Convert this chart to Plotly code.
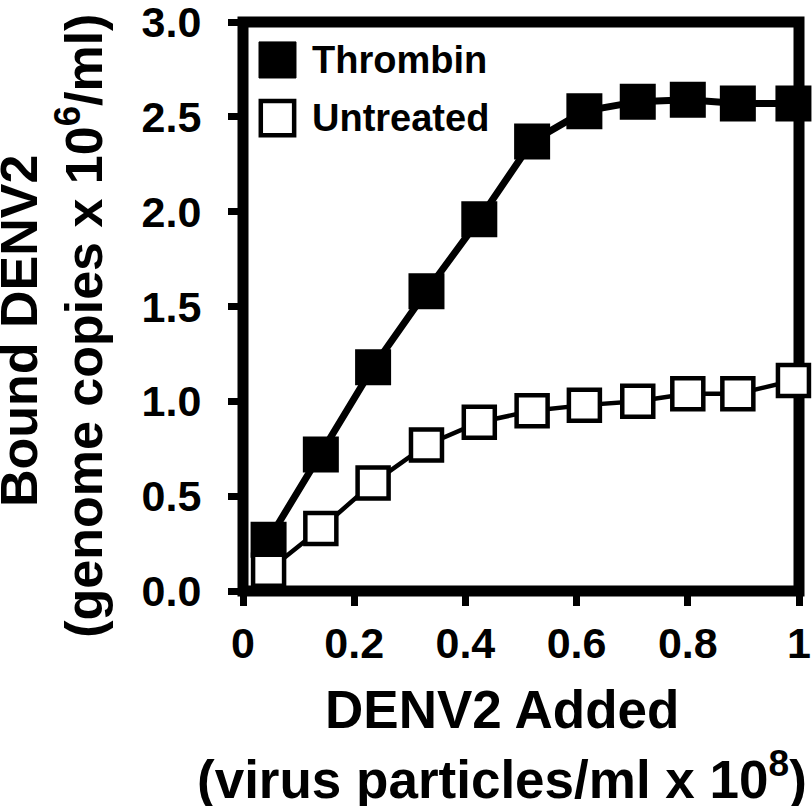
import plotly.graph_objects as go

FONT = "Liberation Sans"

# values
x_added = [0.046, 0.140, 0.234, 0.330, 0.425, 0.520, 0.614, 0.710, 0.800, 0.890, 0.990]
thrombin = [0.27, 0.72, 1.18, 1.58, 1.96, 2.37, 2.53, 2.58, 2.59, 2.57, 2.57]
untreated = [0.11, 0.33, 0.57, 0.77, 0.89, 0.95, 0.98, 1.00, 1.04, 1.04, 1.11]

x_ticks = [0, 0.2, 0.4, 0.6, 0.8, 1]
x_ticktext = ["0", "0.2", "0.4", "0.6", "0.8", "1"]
y_ticks = [0, 0.5, 1.0, 1.5, 2.0, 2.5, 3.0]
y_ticktext = ["0.0", "0.5", "1.0", "1.5", "2.0", "2.5", "3.0"]


def bold(size):
    return dict(family=FONT, size=size, color="black", weight="bold")


fig = go.Figure()
fig.add_trace(go.Scatter(x=x_added, y=thrombin, mode="lines+markers", name="Thrombin",
                         line=dict(color="black", width=7),
                         marker=dict(symbol="square", size=34, color="black",
                                     line=dict(color="black", width=2)),
                         cliponaxis=False))
fig.add_trace(go.Scatter(x=x_added, y=untreated, mode="lines+markers", name="Untreated",
                         line=dict(color="black", width=4.5),
                         marker=dict(symbol="square", size=31, color="white",
                                     line=dict(color="black", width=4.5)),
                         cliponaxis=False))

# plot frame
fig.add_shape(type="rect", xref="paper", yref="paper", x0=0, x1=1, y0=0, y1=1,
              line=dict(color="black", width=11), layer="below")

# hand-drawn legend (plotly caps legend symbol size)
fig.add_shape(type="rect", xref="paper", yref="paper", x0=0.0288, x1=0.0953,
              y0=0.9016, y1=0.965, fillcolor="black", line=dict(color="black", width=1))
fig.add_shape(type="rect", xref="paper", yref="paper", x0=0.032, x1=0.092,
              y0=0.801, y1=0.861, fillcolor="white", line=dict(color="black", width=4.5))
fig.add_annotation(text="Thrombin", xref="paper", yref="paper", x=0.1205, y=0.933,
                   xanchor="left", yanchor="middle", showarrow=False, font=bold(38))
fig.add_annotation(text="Untreated", xref="paper", yref="paper", x=0.1205, y=0.831,
                   xanchor="left", yanchor="middle", showarrow=False, font=bold(38))

# axis titles
fig.add_annotation(text="DENV2 Added", xref="paper", yref="paper", x=0.466, y=-0.208,
                   xanchor="center", yanchor="middle", showarrow=False, font=bold(53))
fig.add_annotation(text="(virus particles/ml x 10<sup>8</sup>)", xref="paper", yref="paper",
                   x=0.466, y=-0.324, xanchor="center", yanchor="middle",
                   showarrow=False, font=bold(53))
fig.add_annotation(text="Bound DENV2", xref="paper", yref="paper", x=-0.4026, y=0.457,
                   xanchor="center", yanchor="middle", textangle=-90,
                   showarrow=False, font=bold(52))
fig.add_annotation(text="(genome copies x 10<sup>6</sup>/ml)", xref="paper", yref="paper",
                   x=-0.2932, y=0.466, xanchor="center", yanchor="middle", textangle=-90,
                   showarrow=False, font=bold(52))

fig.update_xaxes(range=[0, 1], tickvals=x_ticks, ticktext=x_ticktext,
                 ticks="outside", ticklen=14, tickwidth=7, tickcolor="black",
                 showgrid=False, zeroline=False, showline=False, automargin=False,
                 ticklabeloverflow="allow", tickfont=bold(43))
fig.update_yaxes(range=[0, 3], tickvals=y_ticks, ticktext=y_ticktext,
                 ticks="outside", ticklen=14, tickwidth=7, tickcolor="black",
                 showgrid=False, zeroline=False, showline=False, automargin=False,
                 ticklabeloverflow="allow", ticklabelstandoff=18, tickfont=bold(43))

fig.update_layout(width=812, height=806, showlegend=False,
                  paper_bgcolor="white", plot_bgcolor="white",
                  margin=dict(l=243, r=13, t=22, b=215))

# drop the default 8px body margin so the figure sits at the page corner
fig.write_html("out.html", config={"displayModeBar": False},
               post_script="document.body.style.margin='0';")
